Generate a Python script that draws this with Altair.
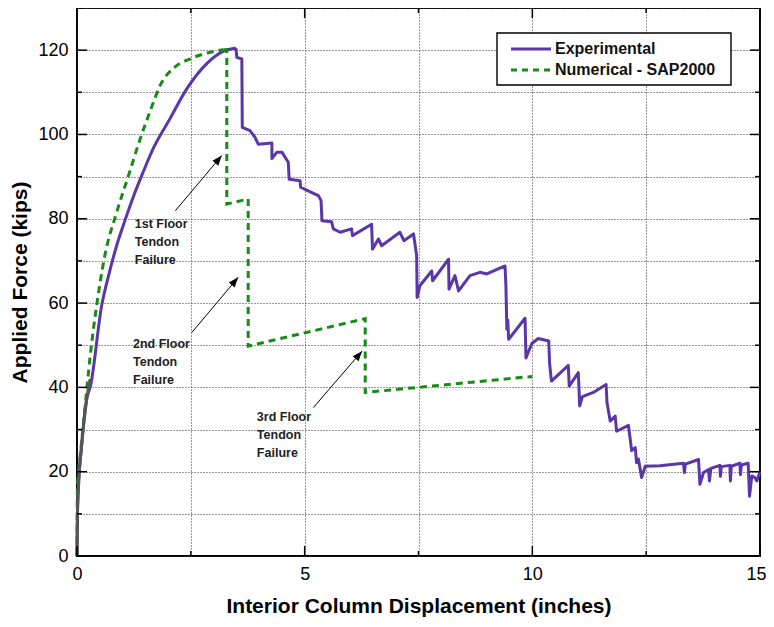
import altair as alt
import pandas as pd

# ---------------- data ----------------
exp_x = [0, 0.01, 0.03, 0.10, 0.21, 0.30, 0.54, 0.70, 0.87, 1.05, 1.24, 1.45, 1.68,
         2.04, 2.41, 2.85, 3.21, 3.35, 3.49, 3.51, 3.62, 3.63, 3.80, 3.91, 3.98, 4.28, 4.28,
         4.39, 4.50, 4.64, 4.66, 4.90, 4.91, 5.10, 5.30, 5.36, 5.38, 5.59, 5.63, 5.78, 6.03,
         6.05, 6.47, 6.49, 6.62, 6.69, 7.09, 7.18, 7.39, 7.46, 7.47, 7.53, 7.79, 7.81, 8.16,
         8.17, 8.30, 8.38, 8.63, 8.85, 9.00, 9.40, 9.42, 9.44, 9.46, 9.48, 9.84, 9.86, 9.99,
         10.13, 10.36, 10.38, 10.42, 10.79, 10.81, 11.01, 11.04, 11.10, 11.34, 11.62, 11.64,
         11.71, 11.82, 11.85, 12.11, 12.15, 12.18, 12.26, 12.29, 12.33, 12.40, 12.48, 12.80,
         13.32, 13.34, 13.36, 13.65, 13.68, 13.76, 13.87, 13.89, 13.92, 14.12, 14.13, 14.15,
         14.34, 14.35, 14.37, 14.56, 14.57, 14.59, 14.74, 14.77, 14.82, 14.90, 14.93, 15.0]
exp_y = [0, 10, 16, 26, 37, 40.5, 59.3, 66.8, 73.6, 79.5, 85.3, 91, 96.8,
         103.7, 110.8, 116.8, 119.7, 120.2, 120.5, 118.3, 117.9, 101.7, 100.9, 99.3, 97.7, 98.0, 94.3,
         95.8, 95.8, 93.4, 89.4, 89.0, 87.5, 86.5, 85.5, 84.3, 79.5, 79.3, 77.6, 76.8, 77.6,
         76.0, 78.7, 72.8, 75.2, 73.6, 76.8, 74.8, 76.4, 71.2, 61.3, 64.1, 67.6, 65.3, 70.4,
         63.3, 66.5, 62.9, 66.5, 67.3, 66.9, 68.8, 64.1, 53.8, 56.0, 51.4, 56.4, 47.0, 50.4,
         51.6, 51.0, 45.5, 41.5, 45.2, 40.3, 43.5, 35.6, 37.8, 38.8, 40.7, 36.4,
         32.0, 33.2, 29.6, 31.0, 27.7, 25.0, 25.7, 22.1, 23.0, 18.6, 21.3, 21.4,
         22.0, 19.8, 21.8, 22.9, 17.0, 19.8, 20.5, 17.8, 20.8, 21.5, 18.9, 21.2,
         21.5, 17.8, 21.3, 22.0, 19.3, 21.6, 22.0, 14.2, 19.0, 18.5, 17.8, 20.0]

num_x = [0, 0.01, 0.07, 0.18, 0.29, 0.43, 0.61, 0.87, 1.13, 1.38, 1.64, 1.82, 2.15,
         2.48, 2.92, 3.21, 3.29, 3.29, 3.76, 3.76, 6.33, 6.33, 10.0]
num_y = [0, 16.6, 23.7, 35.6, 47.5, 59.3, 71.2, 81.5, 90.2, 98.7, 106.5, 111.5, 116,
         117.9, 119.5, 120.1, 120.1, 83.5, 84.7, 49.8, 56.3, 38.8, 42.6]

# initial (grey) portion of the test record
init_x = [0, 0.01, 0.03, 0.10, 0.21, 0.29]
init_y = [0, 10, 16, 26, 37, 42]

series_names = ["Experimental", "Numerical - SAP2000"]

ann_text = ["1st Floor\nTendon\nFailure", "2nd Floor\nTendon\nFailure", "3rd Floor\nTendon\nFailure"]
ann_x = [1.27, 1.23, 3.95]
ann_y = [80.2, 51.7, 34.3]
arrow_tail_x = [2.16, 2.52, 5.19]
arrow_tail_y = [81.9, 53.0, 35.2]
arrow_head_x = [3.18, 3.54, 6.26]
arrow_head_y = [95.0, 66.1, 48.6]

x_grid = [0, 2.5, 5, 7.5, 10, 12.5, 15]
x_major = [0, 5, 10, 15]
x_minor = [2.5, 7.5, 12.5]
y_grid = list(range(0, 131, 10))
y_major = list(range(0, 121, 20))
y_minor = list(range(10, 131, 20))

# ---------------- styling ----------------
W, H = 683, 548
PURPLE = "#5b36a8"
GREEN = "#178a17"
FONT = "Liberation Sans"

xs = alt.Scale(domain=[0, 15], nice=False, zero=False)
ys = alt.Scale(domain=[0, 130], nice=False, zero=False)

x_axis = alt.Axis(
    values=x_grid,
    labelExpr="datum.value % 5 === 0 ? datum.label : ''",
    title="Interior Column Displacement (inches)",
    grid=True, gridDash=[1, 2], gridColor="#333", gridWidth=1,
    domain=False, ticks=False, labelPadding=9, labelFlush=False,
    labelOffset={"condition": {"test": "datum.value === 15", "value": -4}, "value": 0},
    labelFontSize=18, labelFont=FONT, labelColor="black",
    titleFontSize=21, titleFont=FONT, titleFontWeight="bold", titleColor="black",
    titlePadding=12,
)
y_axis = alt.Axis(
    values=y_grid,
    labelExpr="(datum.value % 20 === 0 && datum.value <= 120) ? datum.label : ''",
    title="Applied Force (kips)",
    grid=True, gridDash=[1, 2], gridColor="#333", gridWidth=1,
    domain=False, ticks=False, labelPadding=9, labelFlush=False,
    labelFontSize=18, labelFont=FONT, labelColor="black",
    titleFontSize=21, titleFont=FONT, titleFontWeight="bold", titleColor="black",
    titlePadding=7,
)

# split each record at its first peak: smooth rising branch, raw post-peak branch
ek = exp_y.index(max(exp_y))
nk = num_y.index(max(num_y))

exp_rise = pd.DataFrame({"x": exp_x[:ek + 1], "y": exp_y[:ek + 1]})
exp_post = pd.DataFrame({"x": exp_x[ek:], "y": exp_y[ek:], "i": range(len(exp_x) - ek)})
num_rise = pd.DataFrame({"x": num_x[:nk + 1], "y": num_y[:nk + 1]})
num_post = pd.DataFrame({"x": num_x[nk:], "y": num_y[nk:], "i": range(len(num_x) - nk)})
init_df = pd.DataFrame({"x": init_x, "y": init_y})
ann_df = pd.DataFrame({"x": ann_x, "y": ann_y, "t": ann_text})
arr_df = pd.DataFrame({"x": arrow_tail_x, "y": arrow_tail_y, "x2": arrow_head_x, "y2": arrow_head_y})
xmaj_df = pd.DataFrame({"x": x_major})
xmin_df = pd.DataFrame({"x": x_minor})
ymaj_df = pd.DataFrame({"y": y_major})
ymin_df = pd.DataFrame({"y": y_minor})
leg_df = pd.DataFrame({"t": series_names})

exp_rise_line = alt.Chart(exp_rise).mark_line(
    color=PURPLE, strokeWidth=3, interpolate="monotone"
).encode(
    x=alt.X("x:Q", scale=xs, axis=x_axis),
    y=alt.Y("y:Q", scale=ys, axis=y_axis),
)
exp_post_line = alt.Chart(exp_post).mark_line(color=PURPLE, strokeWidth=3, strokeJoin="round").encode(
    x=alt.X("x:Q", scale=xs), y=alt.Y("y:Q", scale=ys), order="i:Q"
)
num_rise_line = alt.Chart(num_rise).mark_line(
    color=GREEN, strokeWidth=3, strokeDash=[7, 5], interpolate="monotone"
).encode(x=alt.X("x:Q", scale=xs), y=alt.Y("y:Q", scale=ys))
num_post_line = alt.Chart(num_post).mark_line(color=GREEN, strokeWidth=3, strokeDash=[7, 5]).encode(
    x=alt.X("x:Q", scale=xs), y=alt.Y("y:Q", scale=ys), order="i:Q"
)
init_line = alt.Chart(init_df).mark_line(color="#555555", strokeWidth=3, interpolate="monotone").encode(
    x=alt.X("x:Q", scale=xs), y=alt.Y("y:Q", scale=ys)
)

arrows = alt.Chart(arr_df).mark_rule(color="black", strokeWidth=1).encode(
    x=alt.X("x:Q", scale=xs), y=alt.Y("y:Q", scale=ys), x2="x2:Q", y2="y2:Q"
)
heads = alt.Chart(arr_df).mark_point(
    shape="M0,0L0.38,1L-0.38,1Z", filled=True, color="black", opacity=1, size=400, angle=40
).encode(x=alt.X("x2:Q", scale=xs), y=alt.Y("y2:Q", scale=ys))

ann = alt.Chart(ann_df).mark_text(
    align="left", baseline="top", lineBreak="\n", lineHeight=18,
    fontSize=12.5, fontWeight="bold", font=FONT, color="#222222"
).encode(x=alt.X("x:Q", scale=xs), y=alt.Y("y:Q", scale=ys), text="t:N")

# inward tick marks (box style, all four sides)
def xticks(df, length):
    bot = alt.Chart(df).mark_rule(color="black", strokeWidth=1.5).encode(
        x=alt.X("x:Q", scale=xs), y=alt.value(H), y2=alt.value(H - length))
    top = alt.Chart(df).mark_rule(color="black", strokeWidth=1.5).encode(
        x=alt.X("x:Q", scale=xs), y=alt.value(0), y2=alt.value(length))
    return [bot, top]

def yticks(df, length):
    left = alt.Chart(df).mark_rule(color="black", strokeWidth=1.5).encode(
        y=alt.Y("y:Q", scale=ys), x=alt.value(0), x2=alt.value(length))
    right = alt.Chart(df).mark_rule(color="black", strokeWidth=1.5).encode(
        y=alt.Y("y:Q", scale=ys), x=alt.value(W), x2=alt.value(W - length))
    return [left, right]

tick_layers = xticks(xmaj_df, 10) + xticks(xmin_df, 5) + yticks(ymaj_df, 10) + yticks(ymin_df, 5)

# legend box
LX0, LX1, LY0, LY1 = 420, 654, 25, 77
leg_box = alt.Chart(leg_df.head(1)).mark_rect(fill="white", stroke="black", strokeWidth=1.4).encode(
    x=alt.value(LX0), x2=alt.value(LX1), y=alt.value(LY0), y2=alt.value(LY1))
leg_l1 = alt.Chart(leg_df.head(1)).mark_rule(color=PURPLE, strokeWidth=3).encode(
    x=alt.value(434), x2=alt.value(474), y=alt.value(41))
leg_l2 = alt.Chart(leg_df.head(1)).mark_rule(color=GREEN, strokeWidth=3, strokeDash=[6, 5]).encode(
    x=alt.value(434), x2=alt.value(474), y=alt.value(62))
leg_t1 = alt.Chart(leg_df.iloc[[0]]).mark_text(
    align="left", baseline="middle", fontSize=16, fontWeight="bold", font=FONT, color="#111"
).encode(x=alt.value(478), y=alt.value(41), text="t:N")
leg_t2 = alt.Chart(leg_df.iloc[[1]]).mark_text(
    align="left", baseline="middle", fontSize=16, fontWeight="bold", font=FONT, color="#111"
).encode(x=alt.value(478), y=alt.value(62), text="t:N")

chart = alt.layer(
    exp_rise_line, exp_post_line, num_rise_line, num_post_line, init_line,
    arrows, heads, ann, *tick_layers,
    leg_box, leg_l1, leg_l2, leg_t1, leg_t2
).properties(
    width=W, height=H,
    autosize=alt.AutoSizeParams(type="none"),
    padding={"left": 69, "top": 0, "right": 6, "bottom": 64},
    background="white",
).configure_view(stroke="black", strokeWidth=2)

chart.save("out.html", embed_options={"renderer": "svg", "actions": False})
